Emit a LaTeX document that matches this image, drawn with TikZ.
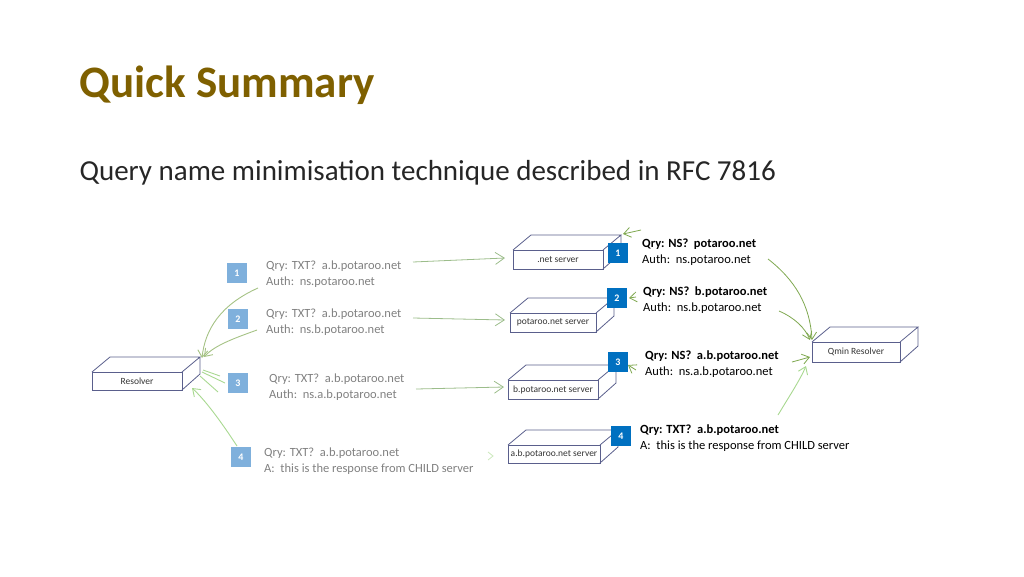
\documentclass[tikz,border=0pt]{standalone}
\usepackage{fontspec}
\setmainfont{Carlito}
\usetikzlibrary{arrows.meta}
\definecolor{title}{HTML}{7F6000}
\definecolor{dblue}{HTML}{0070C0}
\definecolor{lblue}{HTML}{7FB0DC}
\definecolor{sketch}{HTML}{5A5F8C}
\definecolor{grn}{HTML}{7FA850}
\definecolor{lgrn}{HTML}{A8D890}
\definecolor{gtxt}{HTML}{808080}
\tikzset{
 srvtxt/.style={font=\fontsize{9.5}{10}\selectfont, text=black!80},
 lab/.style={anchor=north west, align=left, font=\fontsize{12.5}{15.5}\selectfont, inner sep=0pt},
 dsq/.style={fill=dblue, text=white, minimum size=20pt, inner sep=0pt, font=\fontsize{10}{10}\selectfont\bfseries},
 lsq/.style={fill=lblue, text=white, minimum size=20pt, inner sep=0pt, font=\fontsize{10}{10}\selectfont\bfseries},
 garr/.style={draw=grn, line width=0.8pt, -{Straight Barb[length=7pt,width=10pt]}},
 larr/.style={draw=lgrn, line width=0.9pt, -{Straight Barb[length=7pt,width=10pt]}},
 yarr/.style={draw=gray!30!lgrn, line width=0.8pt, -{Straight Barb[length=9pt,width=12pt]}},
}
\newcommand{\srvbox}[6]{% name, x0,y0,x1,y1, text
 \draw[sketch, line width=0.8pt] (#2,#3) rectangle (#4,#5);
 \draw[sketch, line width=0.8pt] (#2,#3) -- ++(18,-15) -- ({#4+18},{#3-15}) -- (#4,#3) ({#4+18},{#3-15}) -- ({#4+18},{#5-16}) -- (#4,#5);
 \node[srvtxt] (#1) at ({(#2+#4)/2},{(#3+#5)/2}) {#6};}
\begin{document}
\begin{tikzpicture}[x=1pt,y=-1pt]
\useasboundingbox (0,0) rectangle (1024,576);
\node[anchor=west, text=title, font=\fontsize{45}{45}\selectfont\bfseries] (t) at (76,85) {Quick Summary};
\node[anchor=west, font=\fontsize{29}{29}\selectfont, text=black!85] (st) at (76,173) {Query name minimisation technique described in RFC 7816};

\srvbox{net}{513}{250}{603}{269}{.net server}
\srvbox{pot}{510}{313}{596}{332}{potaroo.net server}
\srvbox{bpot}{508}{380}{598}{399}{b.potaroo.net server}
\srvbox{abpot}{508}{445}{600}{463}{a.b.potaroo.net server}
\srvbox{qmin}{812}{342}{900}{362}{Qmin Resolver}
\srvbox{res}{92}{372}{182}{390}{Resolver}

\node[dsq] (d1) at (618,253) {1};
\node[dsq] (d2) at (617,298) {2};
\node[dsq] (d3) at (618,362) {3};
\node[dsq] (d4) at (621,436) {4};
\node[lsq] (l1) at (237,273) {1};
\node[lsq] (l2) at (238,319) {2};
\node[lsq] (l3) at (238,383) {3};
\node[lsq] (l4) at (241,457) {4};

\node[lab, text=gtxt] (g1) at (266,261) {Qry: TXT?\ \ a.b.potaroo.net\\Auth:\ \ ns.potaroo.net};
\node[lab, text=gtxt] (g2) at (266,309) {Qry: TXT?\ \ a.b.potaroo.net\\Auth:\ \ ns.b.potaroo.net};
\node[lab, text=gtxt] (g3) at (269,374) {Qry: TXT?\ \ a.b.potaroo.net\\Auth:\ \ ns.a.b.potaroo.net};
\node[lab, text=gtxt] (g4) at (264,448) {Qry: TXT?\ \ a.b.potaroo.net\\A:\ \ this is the response from CHILD server};

\node[lab] (r1) at (642,239) {\textbf{Qry: NS?\ \ potaroo.net}\\Auth:\ \ ns.potaroo.net};
\node[lab] (r2) at (643,287) {\textbf{Qry: NS?\ \ b.potaroo.net}\\Auth:\ \ ns.b.potaroo.net};
\node[lab] (r3) at (645,351) {\textbf{Qry: NS?\ \ a.b.potaroo.net}\\Auth:\ \ ns.a.b.potaroo.net};
\node[lab] (r4) at (640,425) {\textbf{Qry: TXT?\ \ a.b.potaroo.net}\\A:\ \ this is the response from CHILD server};

% resolver -> servers (faded)
\draw[yarr] (413,262) -- (505,258);
\draw[yarr] (413,318) -- (505,320);
\draw[yarr] (416,389) -- (504,387);
\draw[draw=lgrn!60, line width=0.8pt] (488,452) -- (493,456) -- (488,460);

% responses to resolver
\draw[larr, draw=grn!70] (258,288) .. controls (220,305) and (205,330) .. (202,358);
\draw[larr, draw=grn!70] (257,330) .. controls (235,338) and (215,345) .. (204,357);
\draw[draw=lgrn, line width=0.9pt] (225,383) -- (202,372) (220,376) -- (203,370) (218,392) -- (200,376);
\draw[larr] (237,446) .. controls (220,420) and (205,400) .. (192,388);

% qmin side
\draw[garr] (768,259) .. controls (795,280) and (810,305) .. (812,340);
\draw[garr] (779,311) .. controls (795,318) and (805,328) .. (810,340);
\draw[garr] (792,362) -- (810,357);
\draw[larr] (778,415) .. controls (790,395) and (800,380) .. (806,366);
\draw[garr] (641,230) -- (623,234);
\draw[garr] (636,297) -- (629,298);
\draw[garr] (636,370) -- (628,365);
\end{tikzpicture}
\end{document}
